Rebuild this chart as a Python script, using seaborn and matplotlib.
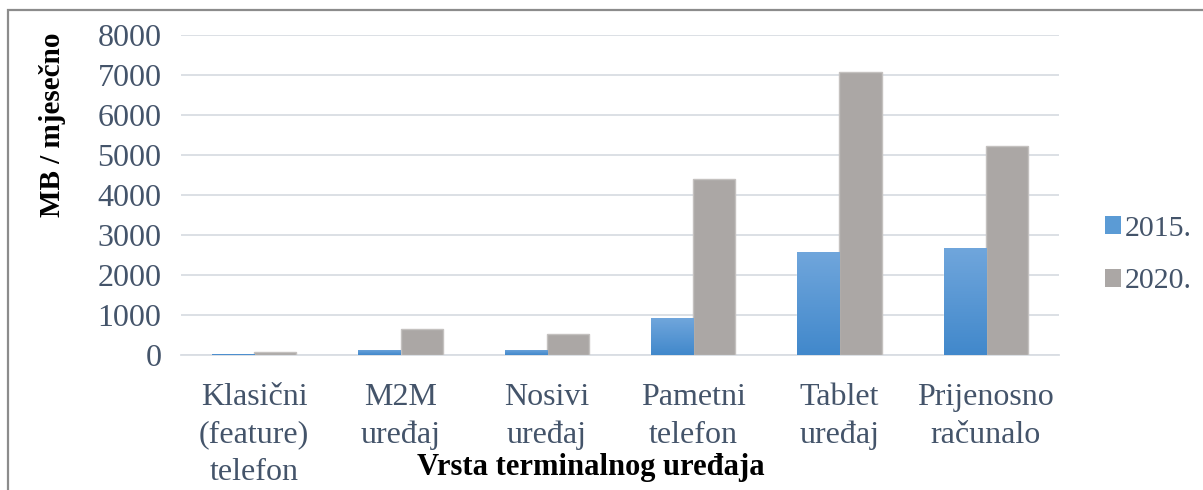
import numpy as np
import pandas as pd
import matplotlib
matplotlib.use("Agg")
import matplotlib.pyplot as plt
from matplotlib.colors import LinearSegmentedColormap
from matplotlib.patches import Patch, Rectangle
import seaborn as sns

categories = ["Klasični\n(feature)\ntelefon", "M2M\nuređaj", "Nosivi\nuređaj",
              "Pametni\ntelefon", "Tablet\nuređaj", "Prijenosno\nračunalo"]
years = ["2015.", "2020."]
values_2015 = [30, 130, 130, 925, 2575, 2670]
values_2020 = [85, 640, 520, 4405, 7070, 5225]
yticks = [0, 1000, 2000, 3000, 4000, 5000, 6000, 7000, 8000]

df = pd.DataFrame({
    "kategorija": categories * 2,
    "godina": [years[0]] * len(categories) + [years[1]] * len(categories),
    "mb": values_2015 + values_2020,
})

sns.set_theme(style="white")
plt.rcParams["font.family"] = ["Liberation Serif", "DejaVu Serif"]

txt = "#44546A"
grid_c = "#D9DDE3"
blue_mid = "#5B9BD5"
gray = "#ABA7A5"

fig = plt.figure(figsize=(12.03, 4.90), dpi=100)
ax = fig.add_axes([181/1203, 1-355/490, 878/1203, 320/490])

sns.barplot(data=df, x="kategorija", y="mb", hue="godina", order=categories,
            hue_order=years, palette=[blue_mid, gray], width=0.575, gap=0,
            saturation=1, ax=ax, legend=False, zorder=3)

# gradient for the 2015 bars
cmap = LinearSegmentedColormap.from_list("g", ["#4188CB", "#70A6DC"])
grad = np.linspace(0, 1, 256).reshape(-1, 1)
for bar in ax.containers[0]:
    x0, w, h = bar.get_x(), bar.get_width(), bar.get_height()
    im = ax.imshow(grad, extent=[x0, x0 + w, 0, h], origin="lower", aspect="auto",
                   cmap=cmap, zorder=4)
    im.set_clip_path(bar)
for bar in ax.containers[1]:
    bar.set_edgecolor("#C4C1BF")
    bar.set_linewidth(1.0)

ax.set_xlim(-0.5, len(categories) - 0.5)
ax.set_ylim(0, 8000)
ax.set_yticks(yticks)
ax.set_yticklabels([str(v) for v in yticks])
ax.yaxis.grid(True, color=grid_c, lw=1.3, zorder=0)
ax.set_axisbelow(True)
for s in ["top", "right", "left"]:
    ax.spines[s].set_visible(False)
ax.spines["bottom"].set_color(grid_c)
ax.spines["bottom"].set_linewidth(1.3)

ax.set_xticks(np.arange(-0.5, len(categories)), minor=True)
ax.tick_params(axis="x", which="minor", length=8, width=1.3, color=grid_c, direction="out")
ax.tick_params(axis="x", which="major", length=0, pad=20, labelsize=23, labelcolor=txt)
ax.tick_params(axis="y", length=0, pad=14, labelsize=23, labelcolor=txt)
for lbl in ax.get_xticklabels():
    lbl.set_linespacing(1.40)
ax.set_xlabel("")
ax.set_ylabel("")

fig.text(52/1203, 1-125/490, "MB / mjesečno", rotation=90, ha="center", va="center",
         fontsize=21, fontweight="bold", color="black")
fig.text(591/1203, 1-467/490, "Vrsta terminalnog uređaja", ha="center", va="center",
         fontsize=22, fontweight="bold", color="black")

handles = [Patch(facecolor=blue_mid, edgecolor="none"), Patch(facecolor=gray, edgecolor="none")]
leg = fig.legend(handles, years, loc="center left", bbox_to_anchor=(1078/1203, 1-255/490),
                 frameon=False, fontsize=21.5, handlelength=0.55, handleheight=0.55,
                 handletextpad=0.12, labelspacing=0.9)
for t in leg.get_texts():
    t.set_color(txt)

# outer chart frame
fig.patches.append(Rectangle((8/1203, -0.1), 1.2, 1.1 - 10/490, transform=fig.transFigure,
                             fill=False, edgecolor="#8C8C8C", lw=1.6, zorder=10))

fig.savefig("out.png", dpi=100)
